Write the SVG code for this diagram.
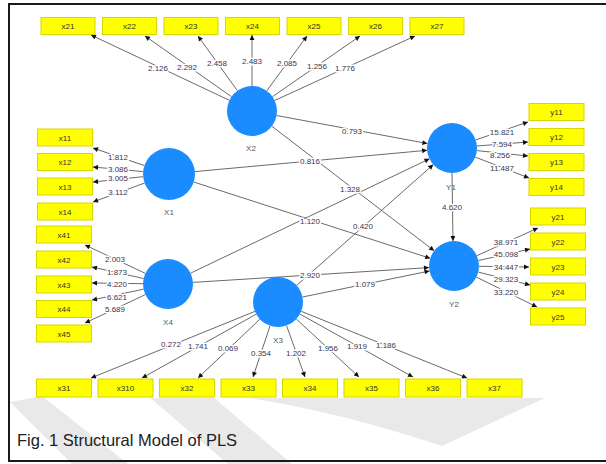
<svg xmlns="http://www.w3.org/2000/svg" width="606" height="464" viewBox="0 0 606 464">
<style>
.bg{fill:#fff}
.wm{fill:#e9e9e9}
.frame{fill:none;stroke:#1a1a1a;stroke-width:2}
.box rect{fill:#ffff00;stroke:#d6d600;stroke-width:1}
.box text{font-family:"Liberation Sans",Arial,sans-serif;font-size:8px;fill:#333;text-anchor:middle}
.lv circle{fill:#1a8cff}
.lv text{font-family:"Liberation Sans",Arial,sans-serif;font-size:8px;fill:#555;text-anchor:middle}
#connectors line{stroke:#6a6a6a;stroke-width:1;marker-end:url(#ah)}
.lbl{font-family:"Liberation Sans",Arial,sans-serif;font-size:8px;fill:#3a3450;text-anchor:middle;paint-order:stroke;stroke:#fff;stroke-width:3px;stroke-linejoin:round}
.cap{font-family:"Liberation Sans",Arial,sans-serif;font-size:16.5px;fill:#222}
</style>
<defs>
<marker id="ah" viewBox="0 0 10 10" refX="10" refY="5" markerWidth="6" markerHeight="5" markerUnits="userSpaceOnUse" orient="auto">
<path d="M0,0 L10,5 L0,10 Z" fill="#111"/>
</marker>
</defs>
<rect class="bg" x="0" y="0" width="606" height="464"/>
<g id="watermark">
<polygon class="wm" points="10,402 42,396 128,464 72,464"/>
<polygon class="wm" points="150,398 214,398 292,464 228,464"/>
<path class="wm" d="M250,398 L545,398 L442,446 Q340,412 250,398 Z"/>
</g>
<path class="frame" d="M606,4 H9 V461 H606"/>

<g id="connectors">
<line x1="229.4" y1="100.3" x2="91" y2="35"/>
<line x1="231.5" y1="96.7" x2="145" y2="36"/>
<line x1="237.4" y1="90.7" x2="198" y2="36"/>
<line x1="252" y1="86" x2="252" y2="35"/>
<line x1="266.8" y1="90.8" x2="307" y2="36"/>
<line x1="272.5" y1="96.7" x2="360" y2="36"/>
<line x1="274.7" y1="100.5" x2="415" y2="36"/>
<line x1="144.4" y1="165.6" x2="93" y2="148"/>
<line x1="143.1" y1="171.6" x2="93" y2="167"/>
<line x1="143.1" y1="176.7" x2="93" y2="182"/>
<line x1="144.6" y1="183" x2="93" y2="202"/>
<line x1="145.4" y1="273.4" x2="85" y2="245"/>
<line x1="143.6" y1="278.5" x2="92" y2="267"/>
<line x1="143" y1="283.7" x2="92" y2="283"/>
<line x1="143.5" y1="289.2" x2="92" y2="300"/>
<line x1="145.4" y1="294.6" x2="85" y2="323"/>
<line x1="475.7" y1="139.9" x2="528" y2="122"/>
<line x1="476.9" y1="146" x2="528" y2="142"/>
<line x1="476.9" y1="150.6" x2="528" y2="156"/>
<line x1="475.3" y1="157.1" x2="529" y2="178"/>
<line x1="476.8" y1="255.7" x2="538" y2="228"/>
<line x1="478.4" y1="260.5" x2="530" y2="249"/>
<line x1="479" y1="266.3" x2="529" y2="267"/>
<line x1="478.3" y1="272.1" x2="530" y2="285"/>
<line x1="476.4" y1="277.1" x2="537" y2="307"/>
<line x1="254.9" y1="311.4" x2="91" y2="378"/>
<line x1="256.2" y1="314.2" x2="142" y2="378"/>
<line x1="259.9" y1="319.2" x2="198" y2="378"/>
<line x1="270.1" y1="325.7" x2="253" y2="377"/>
<line x1="286.5" y1="325.5" x2="305" y2="377"/>
<line x1="296.3" y1="319" x2="359" y2="377"/>
<line x1="299.9" y1="314.1" x2="413" y2="377"/>
<line x1="301.2" y1="311.3" x2="467" y2="378"/>
<line x1="276.6" y1="115.5" x2="427.4" y2="143.5"/>
<line x1="194.9" y1="171.6" x2="427.1" y2="150.3"/>
<line x1="271.8" y1="126.2" x2="434.2" y2="250.8"/>
<line x1="193.7" y1="182" x2="430.2" y2="258.3"/>
<line x1="190.5" y1="273.2" x2="429.5" y2="158.8"/>
<line x1="296.7" y1="285.4" x2="433.3" y2="164.6"/>
<line x1="193" y1="282.4" x2="429" y2="267.6"/>
<line x1="302.5" y1="297" x2="429.5" y2="271"/>
<line x1="452" y1="173" x2="453" y2="241"/>
</g>

<g id="labels">
<text class="lbl" x="158" y="71">2.126</text>
<text class="lbl" x="187" y="70">2.292</text>
<text class="lbl" x="217" y="66">2.458</text>
<text class="lbl" x="252" y="64">2.483</text>
<text class="lbl" x="287" y="66">2.085</text>
<text class="lbl" x="317" y="69">1.256</text>
<text class="lbl" x="345" y="71">1.776</text>
<text class="lbl" x="118" y="160">1.812</text>
<text class="lbl" x="118" y="172">3.086</text>
<text class="lbl" x="118" y="181">3.005</text>
<text class="lbl" x="118" y="195">3.112</text>
<text class="lbl" x="115" y="262">2.003</text>
<text class="lbl" x="117" y="275">1.873</text>
<text class="lbl" x="117" y="287">4.220</text>
<text class="lbl" x="117" y="300">6.621</text>
<text class="lbl" x="115" y="312">5.689</text>
<text class="lbl" x="502" y="135">15.821</text>
<text class="lbl" x="502" y="147">7.594</text>
<text class="lbl" x="500" y="158">8.256</text>
<text class="lbl" x="502" y="171">11.487</text>
<text class="lbl" x="506" y="245">38.971</text>
<text class="lbl" x="506" y="257">45.098</text>
<text class="lbl" x="506" y="270">34.447</text>
<text class="lbl" x="506" y="282">29.323</text>
<text class="lbl" x="506" y="295">33.220</text>
<text class="lbl" x="171" y="347">0.272</text>
<text class="lbl" x="198" y="349">1.741</text>
<text class="lbl" x="228" y="351">0.069</text>
<text class="lbl" x="261" y="356">0.354</text>
<text class="lbl" x="296" y="356">1.202</text>
<text class="lbl" x="328" y="351">1.956</text>
<text class="lbl" x="357" y="349">1.919</text>
<text class="lbl" x="386" y="348">1.186</text>
<text class="lbl" x="352" y="134">0.793</text>
<text class="lbl" x="310" y="164">0.816</text>
<text class="lbl" x="350" y="192">1.328</text>
<text class="lbl" x="310" y="224">1.120</text>
<text class="lbl" x="363" y="229">0.420</text>
<text class="lbl" x="310" y="278">2.920</text>
<text class="lbl" x="365" y="287">1.079</text>
<text class="lbl" x="452" y="210">4.620</text>
</g>

<g id="X2" class="lv"><circle cx="252" cy="111" r="25"/><text x="251" y="151">X2</text></g>
<g id="X1" class="lv"><circle cx="169" cy="174" r="26"/><text x="169" y="215">X1</text></g>
<g id="X4" class="lv"><circle cx="168" cy="284" r="25"/><text x="168" y="325">X4</text></g>
<g id="X3" class="lv"><circle cx="278" cy="302" r="25"/><text x="278" y="343">X3</text></g>
<g id="Y1" class="lv"><circle cx="452" cy="148" r="25"/><text x="451" y="190">Y1</text></g>
<g id="Y2" class="lv"><circle cx="454" cy="266" r="25"/><text x="454" y="307">Y2</text></g>

<g id="x21" class="box"><rect x="41" y="17.5" width="54" height="17"/><text x="68" y="29">x21</text></g>
<g id="x22" class="box"><rect x="102.5" y="17.5" width="54" height="17"/><text x="129.5" y="29">x22</text></g>
<g id="x23" class="box"><rect x="164" y="17.5" width="54" height="17"/><text x="191" y="29">x23</text></g>
<g id="x24" class="box"><rect x="225.5" y="17.5" width="54" height="17"/><text x="252.5" y="29">x24</text></g>
<g id="x25" class="box"><rect x="287" y="17.5" width="54" height="17"/><text x="314" y="29">x25</text></g>
<g id="x26" class="box"><rect x="348.5" y="17.5" width="54" height="17"/><text x="375.5" y="29">x26</text></g>
<g id="x27" class="box"><rect x="410" y="17.5" width="54" height="17"/><text x="437" y="29">x27</text></g>

<g id="x11" class="box"><rect x="37.5" y="129" width="55" height="17"/><text x="65" y="140.5">x11</text></g>
<g id="x12" class="box"><rect x="37.5" y="153.5" width="55" height="17"/><text x="65" y="165">x12</text></g>
<g id="x13" class="box"><rect x="37.5" y="178" width="55" height="17"/><text x="65" y="189.5">x13</text></g>
<g id="x14" class="box"><rect x="37.5" y="203" width="55" height="17"/><text x="65" y="214.5">x14</text></g>

<g id="x41" class="box"><rect x="36.5" y="226" width="55" height="17"/><text x="64" y="237.5">x41</text></g>
<g id="x42" class="box"><rect x="36.5" y="251" width="55" height="17"/><text x="64" y="262.5">x42</text></g>
<g id="x43" class="box"><rect x="36.5" y="276" width="55" height="17"/><text x="64" y="287.5">x43</text></g>
<g id="x44" class="box"><rect x="36.5" y="300.5" width="55" height="17"/><text x="64" y="312">x44</text></g>
<g id="x45" class="box"><rect x="36.5" y="325" width="55" height="17"/><text x="64" y="336.5">x45</text></g>

<g id="y11" class="box"><rect x="529" y="103.5" width="55" height="17"/><text x="556.5" y="115">y11</text></g>
<g id="y12" class="box"><rect x="529" y="128.5" width="55" height="17"/><text x="556.5" y="140">y12</text></g>
<g id="y13" class="box"><rect x="529" y="153.5" width="55" height="17"/><text x="556.5" y="165">y13</text></g>
<g id="y14" class="box"><rect x="529" y="178.5" width="55" height="17"/><text x="556.5" y="190">y14</text></g>

<g id="y21" class="box"><rect x="530.5" y="208" width="55" height="17"/><text x="558" y="219.5">y21</text></g>
<g id="y22" class="box"><rect x="530.5" y="233" width="55" height="17"/><text x="558" y="244.5">y22</text></g>
<g id="y23" class="box"><rect x="530.5" y="258" width="55" height="17"/><text x="558" y="269.5">y23</text></g>
<g id="y24" class="box"><rect x="530.5" y="283" width="55" height="17"/><text x="558" y="294.5">y24</text></g>
<g id="y25" class="box"><rect x="530.5" y="308" width="55" height="17"/><text x="558" y="319.5">y25</text></g>

<g id="x31" class="box"><rect x="36.5" y="379" width="55" height="18"/><text x="64" y="391">x31</text></g>
<g id="x310" class="box"><rect x="98" y="379" width="55" height="18"/><text x="125.5" y="391">x310</text></g>
<g id="x32" class="box"><rect x="159.5" y="379" width="55" height="18"/><text x="187" y="391">x32</text></g>
<g id="x33" class="box"><rect x="221" y="379" width="55" height="18"/><text x="248.5" y="391">x33</text></g>
<g id="x34" class="box"><rect x="282.5" y="379" width="55" height="18"/><text x="310" y="391">x34</text></g>
<g id="x35" class="box"><rect x="344" y="379" width="55" height="18"/><text x="371.5" y="391">x35</text></g>
<g id="x36" class="box"><rect x="405.5" y="379" width="55" height="18"/><text x="433" y="391">x36</text></g>
<g id="x37" class="box"><rect x="467" y="379" width="55" height="18"/><text x="494.5" y="391">x37</text></g>

<text class="cap" x="17" y="446">Fig. 1 Structural Model of PLS</text>
</svg>
